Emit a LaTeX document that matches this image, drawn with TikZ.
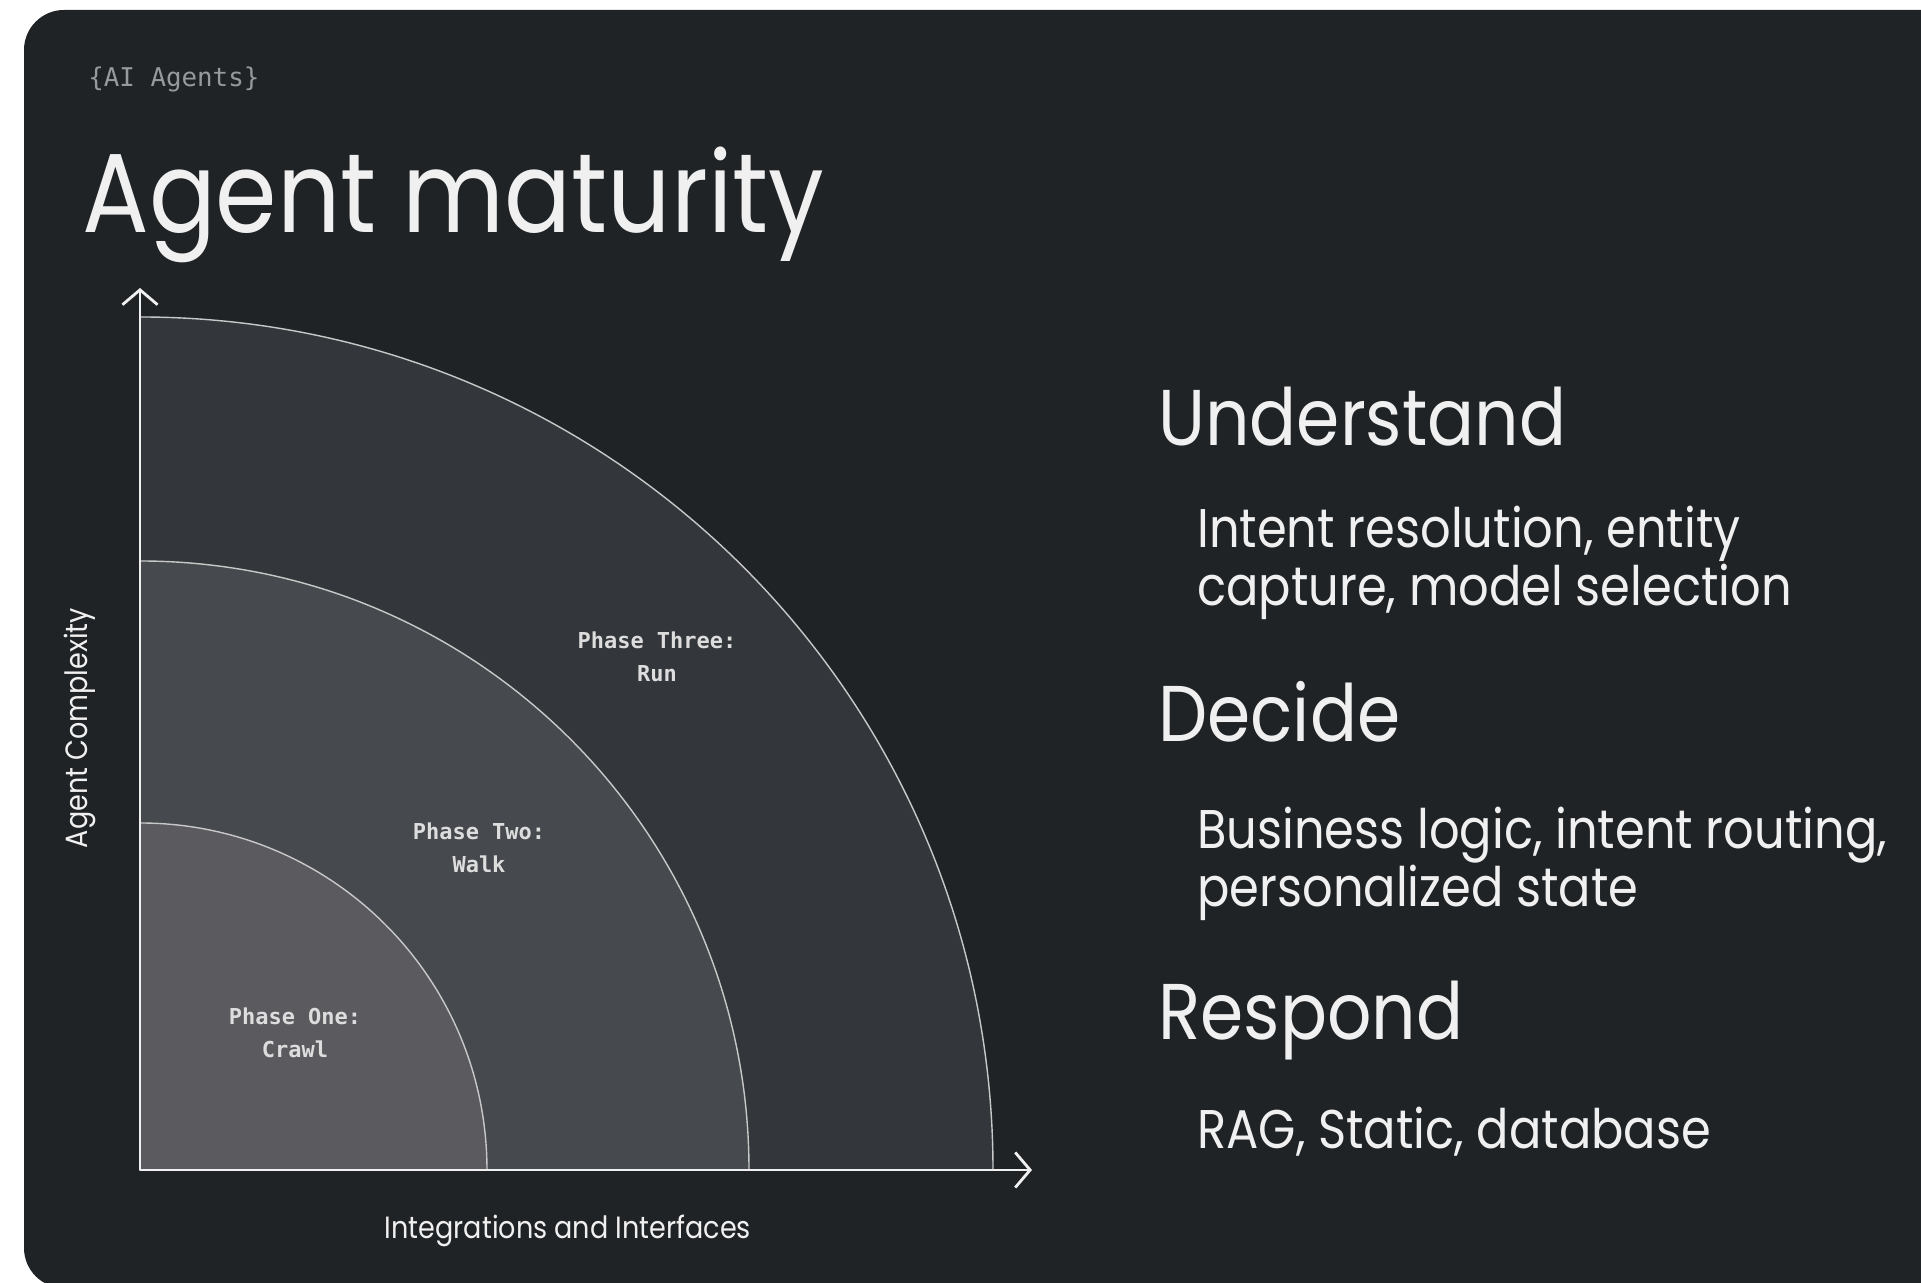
\documentclass[tikz,border=0pt]{standalone}
\usepackage{fontspec}
\setmainfont{Poppins}[FakeStretch=0.88]
\newfontfamily\monofont{DejaVu Sans Mono}
\usetikzlibrary{arrows.meta, positioning}
\definecolor{panel}{RGB}{31,35,38}
\definecolor{band1}{RGB}{90,90,95}
\definecolor{band2}{RGB}{70,73,77}
\definecolor{band3}{RGB}{51,54,58}
\definecolor{arcline}{RGB}{200,200,200}
\definecolor{textlight}{RGB}{240,240,240}
\definecolor{textgray}{RGB}{150,154,156}

\tikzset{
  axis/.style={draw=textlight, line width=1.6pt, -{Straight Barb[length=8.5pt, width=20pt]}},
  ring/.style={draw=arcline, line width=0.8pt},
  phase/.style={font=\monofont\bfseries\fontsize{12.5}{19}\selectfont, text=textlight!92!black, align=center},
  head/.style={font=\fontsize{45}{50}\selectfont, text=textlight, anchor=base west, inner sep=0pt},
  body/.style={font=\fontsize{31}{33.4}\selectfont, text=textlight, anchor=base west, align=left, inner sep=0pt},
  axislabel/.style={font=\fontsize{17.5}{20}\selectfont, text=textlight, inner sep=0pt}
}

\begin{document}
\begin{tikzpicture}[x=0.02cm, y=0.02cm]
    \useasboundingbox (0,0) rectangle (1921,1283);
    \fill[white] (0,0) rectangle (1921,1283);
    % dark panel, rounded on the left
    \fill[panel] (1921,1273) -- (64,1273) arc[start angle=90, end angle=180, radius=40]
        -- (24,35) arc[start angle=180, end angle=270, radius=40] -- (1921,-5) -- cycle;

    \node[font=\monofont\fontsize{14.7}{16}\selectfont, text=textgray, anchor=base west, inner sep=0pt] (tag) at (88,1196) {\{AI Agents\}};
    \node[font=\fontsize{64}{70}\selectfont, text=textlight, anchor=base west, inner sep=0pt] (title) at (82,1050) {Agent maturity};

    % quarter rings
    \coordinate (O) at (140,113);
    \foreach \r/\c in {853/band3, 609/band2, 347/band1}
        \filldraw[fill=\c, ring] (O) -- ++(\r,0) arc[start angle=0, end angle=90, radius=\r] -- cycle;

    \coordinate (ytop) at (140,995);
    \coordinate (xend) at (1032,113);
    \draw[axis] (O) -- (ytop);
    \draw[axis] (O) -- (xend);

    \node[phase] (crawl) at (295,250) {Phase One:\\Crawl};
    \node[phase] (walk) at (479,435) {Phase Two:\\Walk};
    \node[phase] (run) at (657,626) {Phase Three:\\Run};

    \node[axislabel, rotate=90] (ylabel) at (80,555) {Agent Complexity};
    \node[axislabel] (xlabel) at (568,52) {Integrations and Interfaces};

    % right column
    \node[head] (understand) at (1158,837) {Understand};
    \node[body] (understandtxt) at (1197,677) {Intent resolution, entity\\capture, model selection};
    \node[head] (decide) at (1158,541) {Decide};
    \node[body] (decidetxt) at (1197,376) {Business logic, intent routing,\\personalized state};
    \node[head] (respond) at (1158,243) {Respond};
    \node[body] (respondtxt) at (1197,134) {RAG, Static, database};
\end{tikzpicture}
\end{document}
